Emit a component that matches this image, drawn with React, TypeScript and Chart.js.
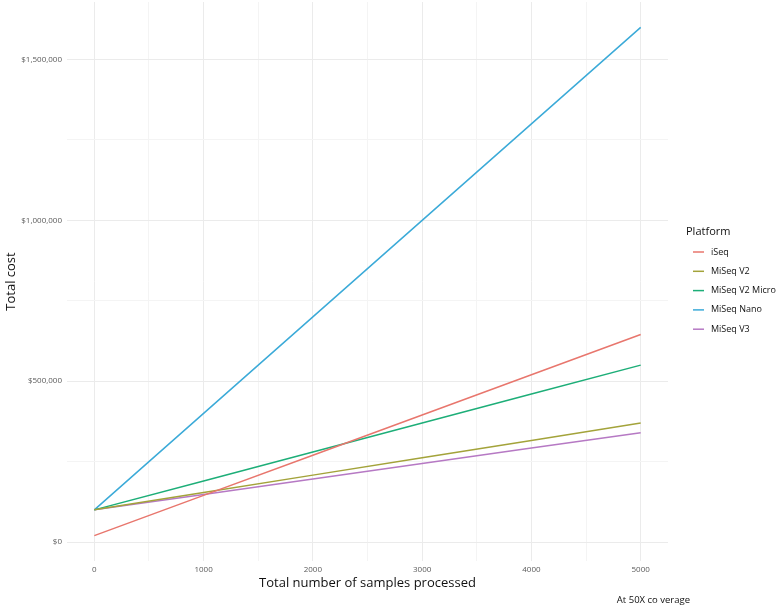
import React, { useEffect, useRef } from "react";
import { Chart, registerables } from "chart.js";

Chart.register(...registerables);

const samples = [0, 1000, 2000, 3000, 4000, 5000];
const platforms = ["iSeq", "MiSeq V2", "MiSeq V2 Micro", "MiSeq Nano", "MiSeq V3"];
const iSeqCost = [20000, 145000, 270000, 395000, 520000, 645000];
const miSeqV2Cost = [100000, 154000, 208000, 262000, 316000, 370000];
const miSeqV2MicroCost = [100000, 190000, 280000, 370000, 460000, 550000];
const miSeqNanoCost = [100000, 400000, 700000, 1000000, 1300000, 1600000];
const miSeqV3Cost = [100000, 148000, 196000, 244000, 292000, 340000];
const seriesValues = [iSeqCost, miSeqV2Cost, miSeqV2MicroCost, miSeqNanoCost, miSeqV3Cost];
const colors = ["#E8766D", "#A3A33A", "#1DAE78", "#3BAAD8", "#B679C4"];

const xGridTicks = [0, 500, 1000, 1500, 2000, 2500, 3000, 3500, 4000, 4500, 5000];
const xLabelTicks = [0, 1000, 2000, 3000, 4000, 5000];
const yGridTicks = [0, 250000, 500000, 750000, 1000000, 1250000, 1500000];
const yLabelTicks = [0, 500000, 1000000, 1500000];

const xTitle = "Total number of samples processed";
const yTitle = "Total cost";
const legendTitle = "Platform";
const caption = "At 50X co verage";

const FONT = "'Open Sans', 'Noto Sans', sans-serif";

const textPlugin = {
  id: "ggText",
  afterDraw(chart: any) {
    const ctx = chart.ctx;
    const area = chart.chartArea;
    ctx.save();
    // axis titles
    ctx.fillStyle = "#111111";
    ctx.font = `13px ${FONT}`;
    ctx.textAlign = "center";
    ctx.textBaseline = "middle";
    ctx.fillText(xTitle, (area.left + area.right) / 2, 583);
    ctx.save();
    ctx.translate(11, (area.top + area.bottom) / 2);
    ctx.rotate(-Math.PI / 2);
    ctx.fillText(yTitle, 0, 0);
    ctx.restore();
    // caption
    ctx.font = `9.5px ${FONT}`;
    ctx.textAlign = "right";
    ctx.fillText(caption, 690, 600);
    // legend
    ctx.textAlign = "left";
    ctx.font = `11px ${FONT}`;
    ctx.fillText(legendTitle, 686, 232);
    ctx.font = `9px ${FONT}`;
    platforms.forEach((p, i) => {
      const y = 252 + i * 19.3;
      ctx.strokeStyle = colors[i];
      ctx.lineWidth = 1.5;
      ctx.beginPath();
      ctx.moveTo(693, y);
      ctx.lineTo(704, y);
      ctx.stroke();
      ctx.fillStyle = "#111111";
      ctx.fillText(p, 711, y);
    });
    ctx.restore();
  },
};

export default function App() {
  const ref = useRef<HTMLCanvasElement | null>(null);
  useEffect(() => {
    if (!ref.current) return;
    const chart = new Chart(ref.current, {
      type: "line",
      data: {
        datasets: platforms.map((p, i) => ({
          label: p,
          data: samples.map((s, j) => ({ x: s, y: seriesValues[i][j] })),
          borderColor: colors[i],
          backgroundColor: colors[i],
          borderWidth: 1.5,
          pointRadius: 0,
          tension: 0,
          fill: false,
        })),
      },
      options: {
        responsive: false,
        animation: false,
        layout: { padding: { top: 2, right: 109, left: 0, bottom: 0 } },
        plugins: { legend: { display: false }, tooltip: { enabled: false } },
        scales: {
          x: {
            type: "linear",
            min: -250,
            max: 5250,
            afterBuildTicks: (scale: any) => {
              scale.ticks = xGridTicks.map((v) => ({ value: v }));
            },
            afterFit: (scale: any) => {
              scale.height = 48;
              scale.paddingLeft = 0;
              scale.paddingRight = 0;
            },
            border: { display: false },
            grid: {
              drawTicks: false,
              color: (c: any) =>
                c.tick && xLabelTicks.includes(c.tick.value) ? "#EBEBEB" : "#F4F4F4",
              lineWidth: 1,
            },
            ticks: {
              autoSkip: false,
              maxRotation: 0,
              padding: 4,
              color: "#5a5a5a",
              font: { family: FONT, size: 8 },
              callback: (v: any) => (xLabelTicks.includes(v) ? String(v) : ""),
            },
          },
          y: {
            type: "linear",
            min: -59000,
            max: 1679000,
            afterBuildTicks: (scale: any) => {
              scale.ticks = yGridTicks.map((v) => ({ value: v }));
            },
            afterFit: (scale: any) => {
              scale.width = 67;
              scale.paddingTop = 0;
              scale.paddingBottom = 0;
            },
            border: { display: false },
            grid: {
              drawTicks: false,
              color: (c: any) =>
                c.tick && yLabelTicks.includes(c.tick.value) ? "#EBEBEB" : "#F4F4F4",
              lineWidth: 1,
            },
            ticks: {
              autoSkip: false,
              padding: 5,
              color: "#5a5a5a",
              font: { family: FONT, size: 8 },
              callback: (v: any) =>
                yLabelTicks.includes(v) ? "$" + Number(v).toLocaleString("en-US") : "",
            },
          },
        },
      },
      plugins: [textPlugin],
    });
    return () => chart.destroy();
  }, []);
  return (
    <div style={{ position: "absolute", left: 0, top: 0, width: 777, height: 609, background: "#ffffff" }}>
      <canvas ref={ref} width={777} height={609} />
    </div>
  );
}
